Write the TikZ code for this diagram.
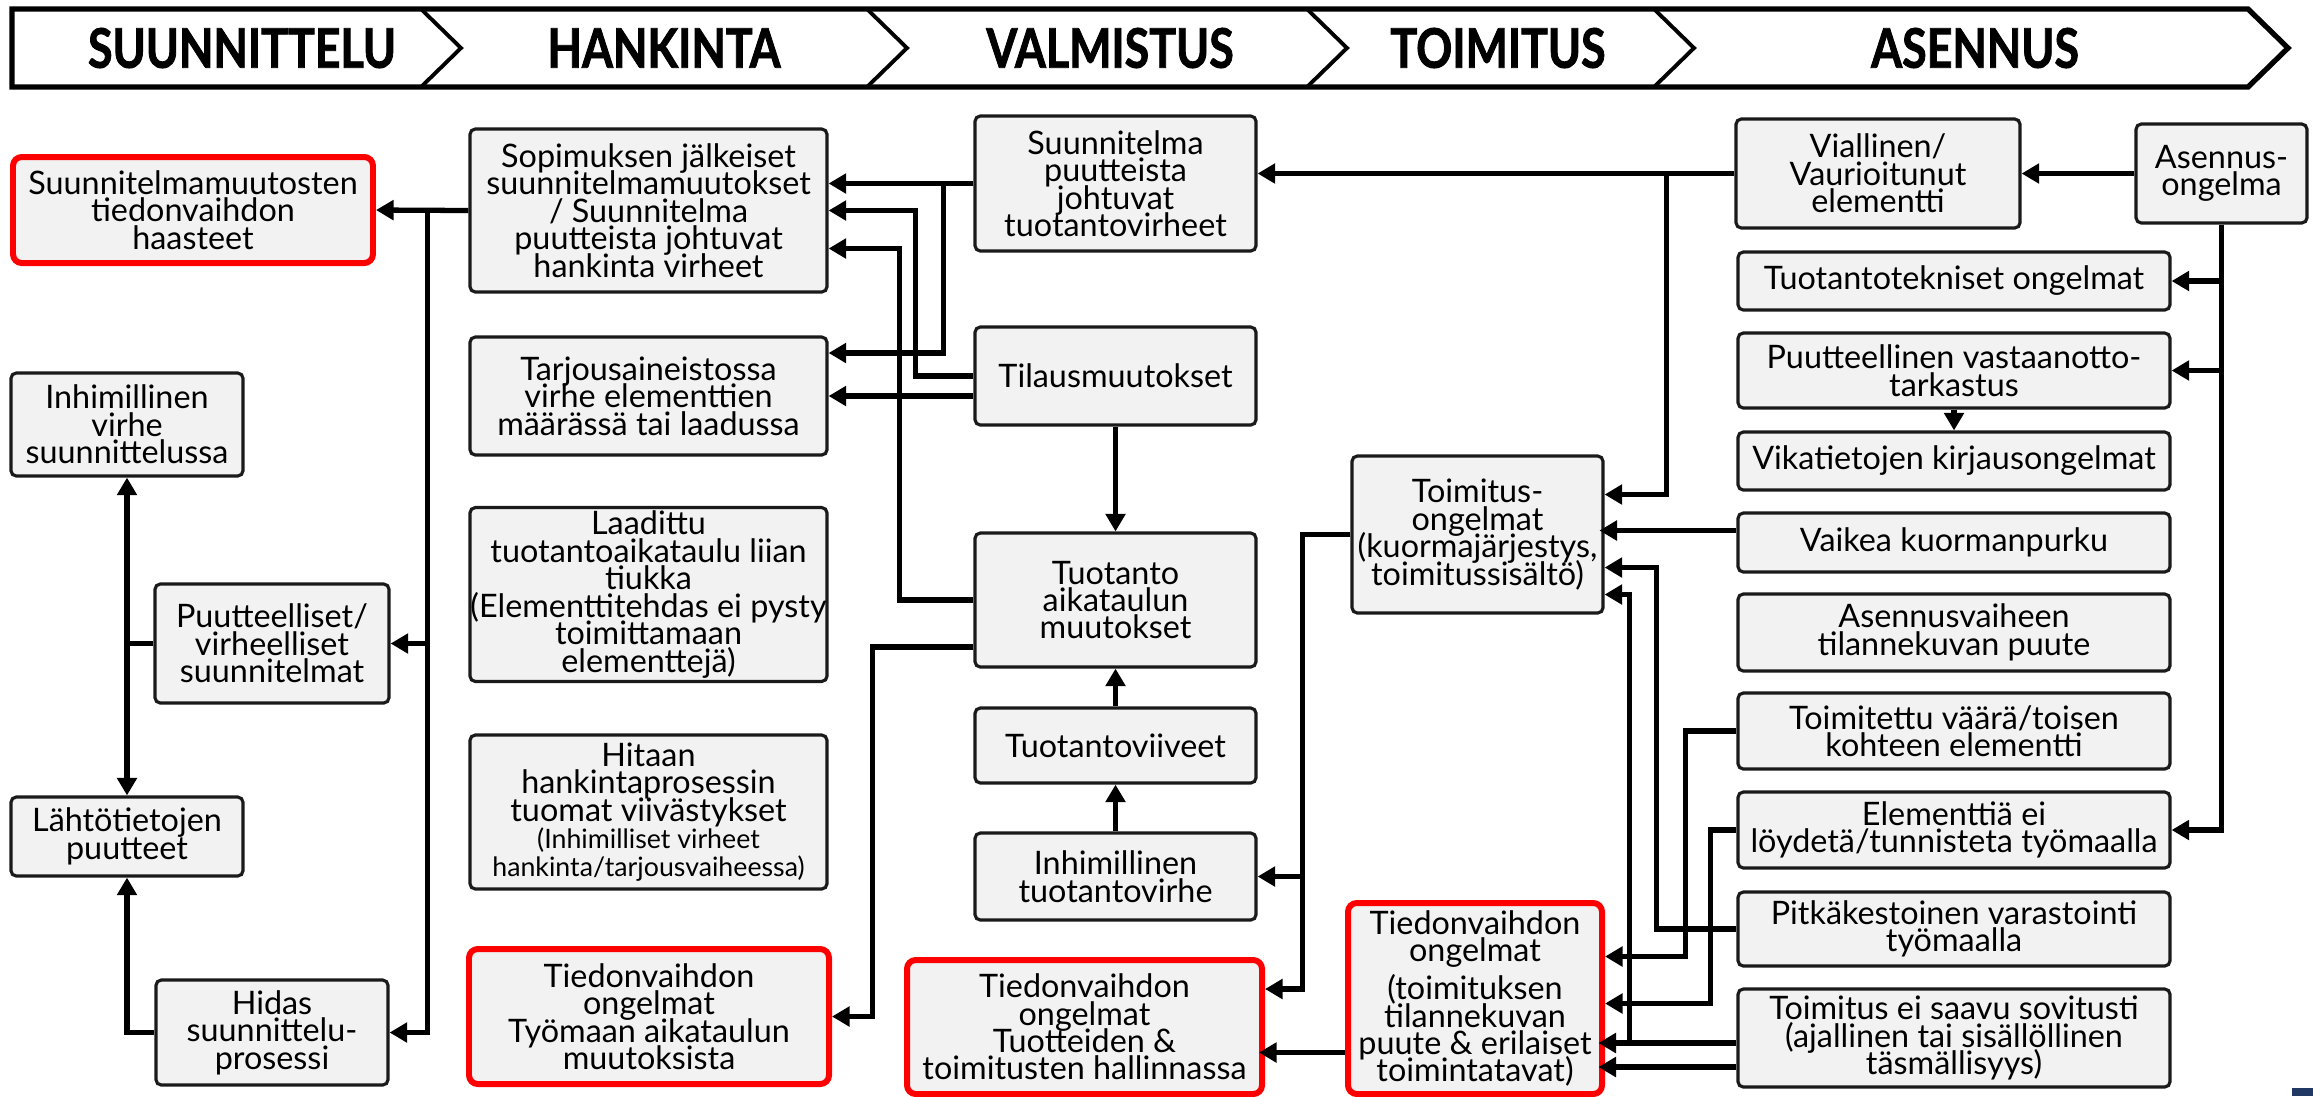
\documentclass[tikz,border=0pt]{standalone}
\usepackage{fontspec}
\setmainfont{Lato}
\newfontfamily\headfont{Lato}[FakeStretch=0.82,FakeBold=1.5]
\usetikzlibrary{arrows.meta,calc}
\definecolor{boxfill}{HTML}{F2F2F2}
\definecolor{boxline}{HTML}{1A1A1A}
\definecolor{alert}{HTML}{FF0000}
\definecolor{navy}{HTML}{1F3864}
\newcommand\boxfont{\fontsize{9.2}{7.8}\selectfont\lineskiplimit=-10pt\relax}
\newcommand\notefont{\fontsize{7.6}{6.4}\selectfont}
\begin{document}
\begin{tikzpicture}[x=0.01cm,y=-0.01cm,
        box/.style={draw=boxline, fill=boxfill, line width=0.9pt, rounded corners=1.5pt,
            align=center, inner xsep=0pt, inner ysep=1pt, font=\boxfont},
        redbox/.style={box, draw=alert, line width=1.7pt, rounded corners=2.5pt},
        sz/.style 2 args={minimum width=#1*0.01cm, minimum height=#2*0.01cm},
        conn/.style={line width=1.5pt, -{Triangle[length=5pt,width=5.5pt]}},
        phase/.style={font=\headfont\bfseries\fontsize{15.5}{16}\selectfont}]
        \useasboundingbox (0,0) rectangle (2313,1096);
        % phase band
        \draw[line width=1.5pt] (12,9) -- (2248,9) -- (2288,48) -- (2248,87) -- (12,87) -- cycle;
        \foreach \xc in {421,867,1307,1654}
            \draw[line width=1.1pt] (\xc,9) -- (\xc+40,48) -- (\xc,87);
        \node[phase] (ph1) at (242,48) {SUUNNITTELU};
        \node[phase] (ph2) at (664,48) {HANKINTA};
        \node[phase] (ph3) at (1110,48) {VALMISTUS};
        \node[phase] (ph4) at (1498,48) {TOIMITUS};
        \node[phase] (ph5) at (1975,48) {ASENNUS};
        % suunnittelu
        \node[redbox, sz={360}{106}] (muutos) at (193,210) {Suunnitelmamuutosten\\tiedonvaihdon\\haasteet};
        \node[box, sz={232}{103}] (inhsuun) at (127,424.5) {Inhimillinen\\virhe\\suunnittelussa};
        \node[box, sz={234}{119}] (puutt) at (272,643.5) {Puutteelliset/\\virheelliset\\suunnitelmat};
        \node[box, sz={232}{79}] (lahto) at (127,836.5) {Lähtötietojen\\puutteet};
        \node[box, sz={232}{105}] (hidas) at (272,1032.5) {Hidas\\suunnittelu-\\prosessi};
        % hankinta
        \node[box, sz={357}{163}] (sopim) at (648.5,210.5) {Sopimuksen jälkeiset\\suunnitelmamuutokset\\/ Suunnitelma\\puutteista johtuvat\\hankinta virheet};
        \node[box, sz={357}{118}] (tarj) at (648.5,396) {Tarjousaineistossa\\virhe elementtien\\määrässä tai laadussa};
        \node[box, sz={357}{169}] (laad) at (648.5,594.5) {Laadittu\\tuotantoaikataulu liian\\tiukka\\(Elementtitehdas ei pysty\\toimittamaan\\elementtejä)};
        \node[box, sz={357}{154}] (hit) at (648.5,812) {Hitaan\\hankintaprosessin\\tuomat viivästykset\\{\notefont(Inhimilliset virheet}\\{\notefont hankinta/tarjousvaiheessa)}};
        \node[redbox, sz={360}{135}] (tyom) at (649,1016.5) {Tiedonvaihdon\\ongelmat\\Työmaan aikataulun\\muutoksista};
        % valmistus
        \node[box, sz={281}{135}] (suunpuut) at (1115.5,183.5) {Suunnitelma\\puutteista\\johtuvat\\tuotantovirheet};
        \node[box, sz={281}{98}] (tilaus) at (1115.5,376) {Tilausmuutokset};
        \node[box, sz={281}{134}] (tuotaik) at (1115.5,600) {Tuotanto\\aikataulun\\muutokset};
        \node[box, sz={281}{75}] (viive) at (1115.5,745.5) {Tuotantoviiveet};
        \node[box, sz={281}{87}] (inhtuot) at (1115.5,876.5) {Inhimillinen\\tuotantovirhe};
        \node[redbox, sz={355}{134}] (tuott) at (1084.5,1027) {Tiedonvaihdon\\ongelmat\\Tuotteiden \&\\toimitusten hallinnassa};
        % toimitus
        \node[box, sz={251}{157}] (toimong) at (1477.5,534.5) {Toimitus-\\ongelmat\\(kuormajärjestys,\\toimitussisältö)};
        \node[redbox, sz={254}{191}] (tiedtoim) at (1475,998.5) {Tiedonvaihdon\\ongelmat\\[3pt](toimituksen\\tilannekuvan\\puute \& erilaiset\\toimintatavat)};
        % asennus
        \node[box, sz={284}{109}] (viall) at (1878,173.5) {Viallinen/\\Vaurioitunut\\elementti};
        \node[box, sz={171}{99}] (asong) at (2221.5,173.5) {Asennus-\\ongelma};
        \node[box, sz={432}{58}] (tuottek) at (1954,281) {Tuotantotekniset ongelmat};
        \node[box, sz={432}{75}] (vastaan) at (1954,370.5) {Puutteellinen vastaanotto-\\tarkastus};
        \node[box, sz={432}{58}] (vika) at (1954,461) {Vikatietojen kirjausongelmat};
        \node[box, sz={432}{59}] (vaikea) at (1954,542.5) {Vaikea kuormanpurku};
        \node[box, sz={432}{77}] (asvaihe) at (1954,632.5) {Asennusvaiheen\\tilannekuvan puute};
        \node[box, sz={432}{76}] (vaara) at (1954,731) {Toimitettu väärä/toisen\\kohteen elementti};
        \node[box, sz={432}{76}] (loyd) at (1954,830) {Elementtiä ei\\löydetä/tunnisteta työmaalla};
        \node[box, sz={432}{74}] (pitka) at (1954,929) {Pitkäkestoinen varastointi\\työmaalla};
        \node[box, sz={432}{98}] (eisaavu) at (1954,1038) {Toimitus ei saavu sovitusti\\(ajallinen tai sisällöllinen\\täsmällisyys)};
        \fill[navy] (2292,1088) rectangle (2313,1096);
        % connectors, suunnittelu
        \draw[conn] (sopim.west) -- (muutos.east);
        \draw[conn] (sopim.west) -- ++(-41,0) |- (puutt.east);
        \draw[conn] (sopim.west) -- ++(-41,0) |- (hidas.east);
        \draw[conn] (puutt.west) -| (inhsuun.south);
        \draw[conn] (puutt.west) -| (lahto.north);
        \draw[conn] (hidas.west) -| (lahto.south);
        % connectors, hankinta
        \draw[conn] (suunpuut.west) -- (suunpuut.west -| sopim.east);
        \draw[conn] (suunpuut.west) -- ++(-30,0) |- ($(tarj.east)+(0,-43)$);
        \draw[conn] (tilaus.west) -- ++(-58,0) |- (sopim.east);
        \draw[conn] (tilaus.west |- tarj.east) -- (tarj.east);
        \draw[conn] (tuotaik.west) -- ++(-74,0) |- ($(sopim.east)+(0,38)$);
        \draw[conn] ($(tuotaik.west)+(0,47)$) -- ++(-101,0) |- (tyom.east);
        % connectors, valmistus
        \draw[conn] (tilaus.south) -- (tuotaik.north);
        \draw[conn] (viive.north) -- (tuotaik.south);
        \draw[conn] (inhtuot.north) -- (viive.south);
        \draw[conn] (toimong.west) -- ++(-48,0) |- (inhtuot.east);
        \draw[conn] (toimong.west) -- ++(-48,0) |- ($(tuott.east)+(0,-38)$);
        \draw[conn] ($(tiedtoim.west)+(0,54)$) -- ++(-86,0);
        % connectors, asennus
        \draw[conn] (asong.west) -- (viall.east);
        \draw[conn] (viall.west) -- (viall.west -| suunpuut.east);
        \draw[conn] (viall.west) -- ++(-68,0) |- ($(toimong.east)+(0,-40)$);
        \draw[conn] (asong.south) |- (tuottek.east);
        \draw[conn] (asong.south) |- (vastaan.east);
        \draw[conn] (asong.south) |- (loyd.east);
        \draw[conn] (vastaan.south) -- (vika.north);
        \draw[conn] ($(vaikea.west)+(0,-12)$) -- ++(-137,0);
        \draw[conn] (pitka.west) -- ++(-80,0) |- ($(toimong.east)+(0,33)$);
        \draw[conn] ($(eisaavu.west)+(0,5)$) -- ++(-107,0) |- ($(toimong.east)+(0,60)$);
        \draw[conn] ($(eisaavu.west)+(0,5)$) -- ++(-138,0);
        \draw[conn] ($(eisaavu.west)+(0,29)$) -- ++(-138,0);
        \draw[conn] (vaara.west) -- ++(-51,0) |- ($(tiedtoim.east)+(0,-42)$);
        \draw[conn] (loyd.west) -- ++(-26,0) |- ($(tiedtoim.east)+(0,5)$);
    \end{tikzpicture}
\end{document}
